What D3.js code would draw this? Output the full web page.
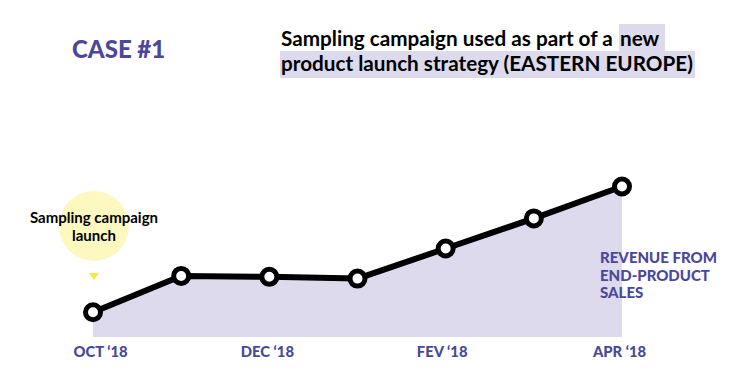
<!DOCTYPE html>
<html><head><meta charset="utf-8">
<script src="https://cdn.jsdelivr.net/npm/d3@7"></script>
<style>body{margin:0;background:#fff}svg{display:block}</style>
</head><body>
<svg id="c" width="754" height="383"></svg>
<script>
const months = ["OCT '18","NOV '18","DEC '18","JAN '18","FEV '18","MAR '18","APR '18"];
const revenue = [14, 34.5, 34, 33, 50, 67, 85];
const tickLabels = ["OCT \u201818","DEC \u201818","FEV \u201818","APR \u201818"];
const tickIdx = [0,2,4,6];

const purple = "#4a479d";
const svg = d3.select("#c");
const font = "Lato, 'Open Sans', sans-serif";

const x = d3.scalePoint().domain(months).range([93,622]);
const y = d3.scaleLinear().domain([0,100]).range([337,160]);

// area
const area = d3.area().x(d=>x(d.m)).y0(y(0)).y1(d=>y(d.v));
const data = months.map((m,i)=>({m, v:revenue[i]}));
svg.append("path").datum(data).attr("d",area).attr("fill","#dcdaec");

// line
svg.append("path").datum(data).attr("d",d3.line().x(d=>x(d.m)).y(d=>y(d.v)))
  .attr("fill","none").attr("stroke","#000").attr("stroke-width",6).attr("stroke-linejoin","round");
svg.selectAll("circle.pt").data(data).join("circle").attr("class","pt")
  .attr("cx",d=>x(d.m)).attr("cy",d=>y(d.v)).attr("r",7.5)
  .attr("fill","#fff").attr("stroke","#000").attr("stroke-width",5);

// x labels
const axis = d3.axisBottom(x).tickValues(tickIdx.map(i=>months[i])).tickSize(0)
  .tickFormat(d=>tickLabels[tickIdx.indexOf(months.indexOf(d))]);
const ax = svg.append("g").attr("transform",`translate(0,${y(0)})`).call(axis);
ax.select(".domain").remove();
ax.selectAll("text").attr("dy",0).attr("y",20).attr("fill",purple)
  .style("font-family",font).style("font-weight","900").style("font-size","14.8px");
const dxs = [7,-2.5,-4,-3];
ax.selectAll(".tick text").attr("dx",(d,i)=>dxs[i]);

// annotation
svg.append("circle").attr("cx",94).attr("cy",226).attr("r",35).attr("fill","#fcf8bf");
svg.append("path").attr("d","M89,273 L99,273 L94,280 Z").attr("fill","#f6e646");
const ann = svg.append("text").attr("text-anchor","middle").attr("fill","#000")
  .style("font-family",font).style("font-weight","700").style("font-size","15px");
ann.append("tspan").attr("x",94).attr("y",223).text("Sampling campaign");
ann.append("tspan").attr("x",94).attr("y",241).text("launch");

// revenue label
const rev = svg.append("text").attr("fill",purple)
  .style("font-family",font).style("font-weight","900").style("font-size","15px");
["REVENUE FROM","END-PRODUCT","SALES"].forEach((t,i)=>rev.append("tspan").attr("x",600).attr("y",263+i*17.5).text(t));

// titles
svg.append("text").attr("x",72).attr("y",58).attr("fill",purple)
  .style("font-family",font).style("font-weight","900").style("font-size","24px").text("CASE #1");

svg.append("rect").attr("x",619).attr("y",24).attr("width",46).attr("height",27).attr("fill","#dcdaec");
svg.append("rect").attr("x",280).attr("y",51).attr("width",415).attr("height",27).attr("fill","#dcdaec");
const tstyle = s => s.attr("fill","#000").style("font-family",font).style("font-weight","700").style("font-size","20.7px");
svg.append("text").attr("x",281).attr("y",46).call(tstyle).text("Sampling campaign used as part of a");
svg.append("text").attr("x",620).attr("y",46).call(tstyle).text("new");
svg.append("text").attr("x",281).attr("y",71).call(tstyle).text("product launch strategy (EASTERN EUROPE)");
</script>
</body></html>
